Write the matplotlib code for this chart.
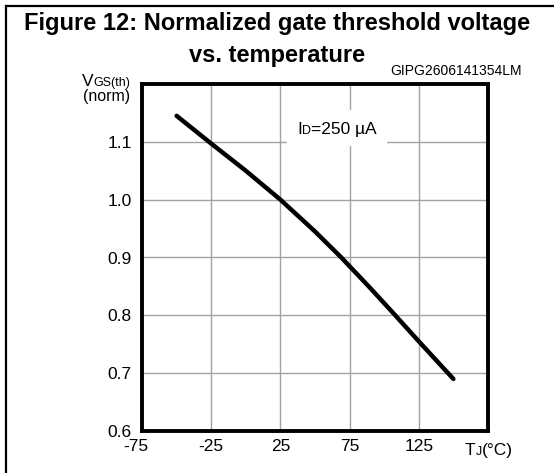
import matplotlib
matplotlib.use("Agg")
import matplotlib.pyplot as plt
import matplotlib.transforms as mtransforms
from matplotlib.lines import Line2D
from matplotlib.patches import Rectangle

plt.rcParams['font.family'] = ['Liberation Sans', 'DejaVu Sans']

# data
temp_c = [-50, -25, 0, 15, 25, 50, 69, 90, 108, 125, 150]
vgs_norm = [1.145, 1.097, 1.05, 1.02, 1.0, 0.945, 0.9, 0.847, 0.8, 0.755, 0.69]
x_ticks = [-75, -25, 25, 75, 125]
y_ticks = [0.6, 0.7, 0.8, 0.9, 1.0, 1.1]
x_grid = [-25, 25, 75, 125]
y_grid = [0.7, 0.8, 0.9, 1.0, 1.1]

W, H = 554, 473


def fx(px):
    return px / W


def fy(py):
    return 1 - py / H


fig = plt.figure(figsize=(W / 100, H / 100), dpi=100)
ax = fig.add_axes([fx(142), fy(431), fx(488) - fx(142), fy(84) - fy(431)])

ax.set_xlim(-75, 175)
ax.set_ylim(0.6, 1.2)

for g in x_grid:
    ax.axvline(g, color='#a3a3a3', lw=1.0, zorder=1)
for g in y_grid:
    ax.axhline(g, color='#a3a3a3', lw=1.0, zorder=1)

# white box behind the condition label
ax.add_patch(Rectangle((fx(287), fy(146)), fx(387) - fx(287), fy(110) - fy(146),
                       transform=fig.transFigure, facecolor='white',
                       edgecolor='none', zorder=2))

ax.plot(temp_c, vgs_norm, color='black', lw=3.2, solid_capstyle='round', zorder=3)

ax.set_xticks(x_ticks)
ax.set_xticklabels([str(t) for t in x_ticks])
ax.set_yticks(y_ticks)
ax.set_yticklabels(['%.1f' % v for v in y_ticks])
ax.tick_params(length=0, labelsize=12.5, colors='black')
ax.tick_params(axis='x', pad=5.5)
ax.tick_params(axis='y', pad=7.5)
for s in ax.spines.values():
    s.set_linewidth(2.8)
    s.set_color('black')

# nudge the first x label a little to the left like the original
lbl = ax.get_xticklabels()[0]
lbl.set_transform(lbl.get_transform() + mtransforms.ScaledTranslation(-6 / 100, 0, fig.dpi_scale_trans))

# titles
fig.text(0.5, fy(30), 'Figure 12: Normalized gate threshold voltage', ha='center',
         va='baseline', fontsize=17, fontweight='bold')
fig.text(0.5, fy(62), 'vs. temperature', ha='center', va='baseline',
         fontsize=17, fontweight='bold')
fig.text(fx(522), fy(75), 'GIPG2606141354LM', ha='right', va='baseline', fontsize=10)

# y axis label
sub = fig.text(fx(130), fy(86), 'GS(th)', ha='right', va='baseline', fontsize=9)
ax.annotate('V', xy=(0, 0), xycoords=sub, ha='right', va='bottom', fontsize=12.5,
            annotation_clip=False)
fig.text(fx(130), fy(101), '(norm)', ha='right', va='baseline', fontsize=11.5)

# condition label
t_i = fig.text(fx(297), fy(134), 'I', ha='left', va='baseline', fontsize=12.5, zorder=5)
t_d = ax.annotate('D', xy=(1, 0), xycoords=t_i, ha='left', va='bottom', fontsize=9,
                  annotation_clip=False)
ax.annotate('=250 \u00b5A', xy=(1, 0), xycoords=t_d, ha='left', va='bottom',
            fontsize=12.5, annotation_clip=False)

# x axis label
t_t = fig.text(fx(465), fy(455), 'T', ha='left', va='baseline', fontsize=12.5)
t_j = ax.annotate('J', xy=(1, 0), xycoords=t_t, ha='left', va='bottom', fontsize=9,
                  annotation_clip=False)
ax.annotate('(\u00b0C)', xy=(1, 0), xycoords=t_j, ha='left', va='bottom',
            fontsize=12.5, annotation_clip=False)

# figure frame (left and top only)
fig.add_artist(Line2D([fx(6), fx(6)], [0, fy(6)], color='black', lw=1.6))
fig.add_artist(Line2D([fx(6), 1], [fy(6), fy(6)], color='black', lw=1.6))

fig.savefig('out.png', dpi=100)
